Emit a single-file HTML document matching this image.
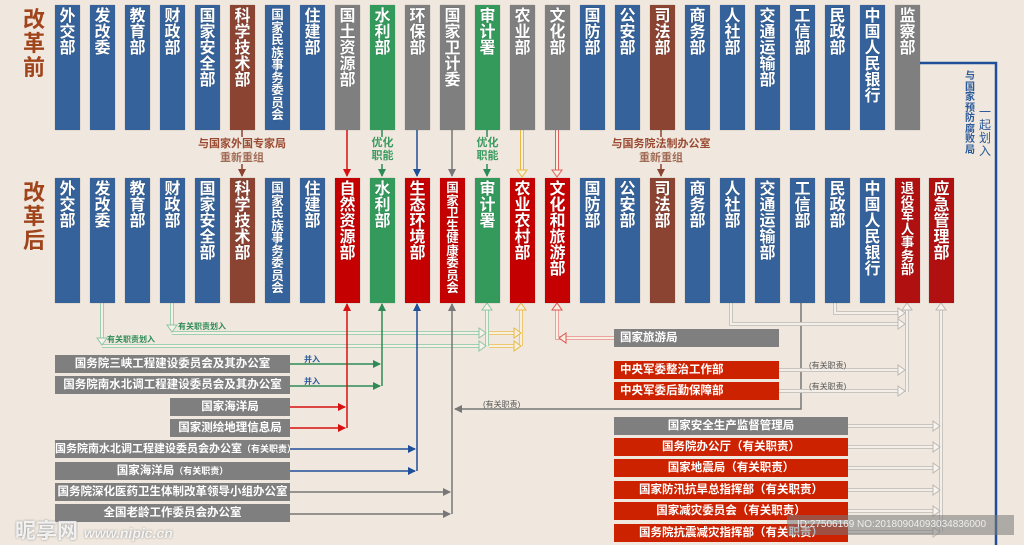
<!DOCTYPE html>
<html><head><meta charset="utf-8">
<style>
*{margin:0;padding:0;box-sizing:border-box}
body{width:1024px;height:545px;background:#f0e8de;position:relative;overflow:hidden;font-family:"Liberation Sans","Noto Sans CJK SC",sans-serif}
.c{position:absolute;width:25px;height:125px;color:#fff;font-weight:bold;text-align:center;line-height:1;padding-top:4px;text-shadow:0 0 1px rgba(0,0,0,.4);box-shadow:0 0 1px rgba(0,0,0,.3)}
.b{background:#35629a}.r{background:#c50000}.g{background:#7f7f7f}.gr{background:#339a5c}.br{background:#8b4332}.dr{background:#b01010}
.bx{position:absolute;height:18px;color:#fff;font-weight:bold;font-size:11.5px;line-height:18px;text-align:center;white-space:nowrap}
.bx small{font-size:9px}
.lab{position:absolute;font-weight:bold;white-space:nowrap}
svg{position:absolute;left:0;top:0}
</style></head><body>
<svg width="1024" height="545" viewBox="0 0 1024 545">
<defs>
<marker id="ar" markerWidth="8" markerHeight="8" refX="7" refY="4" orient="auto" markerUnits="userSpaceOnUse"><path d="M0,0 L8,4 L0,8z" fill="#d81010"/></marker>
<marker id="ag" markerWidth="8" markerHeight="8" refX="7" refY="4" orient="auto" markerUnits="userSpaceOnUse"><path d="M0,0 L8,4 L0,8z" fill="#2e8b57"/></marker>
<marker id="ab" markerWidth="8" markerHeight="8" refX="7" refY="4" orient="auto" markerUnits="userSpaceOnUse"><path d="M0,0 L8,4 L0,8z" fill="#1f4f99"/></marker>
<marker id="ay" markerWidth="8" markerHeight="8" refX="7" refY="4" orient="auto" markerUnits="userSpaceOnUse"><path d="M0,0 L8,4 L0,8z" fill="#777"/></marker>
<marker id="abr" markerWidth="8" markerHeight="8" refX="7" refY="4" orient="auto" markerUnits="userSpaceOnUse"><path d="M0,0 L8,4 L0,8z" fill="#8b4332"/></marker>
</defs>
<line x1="242" y1="130" x2="242" y2="137" stroke="#8b4332" stroke-width="1.5"/>
<line x1="242" y1="164" x2="242" y2="176" stroke="#8b4332" stroke-width="1.5" marker-end="url(#abr)"/>
<line x1="661" y1="130" x2="661" y2="137" stroke="#8b4332" stroke-width="1.5"/>
<line x1="661" y1="164" x2="661" y2="176" stroke="#8b4332" stroke-width="1.5" marker-end="url(#abr)"/>
<line x1="347" y1="130" x2="347" y2="176" stroke="#d81010" stroke-width="1.5" marker-end="url(#ar)"/>
<line x1="382" y1="130" x2="382" y2="137" stroke="#2e8b57" stroke-width="1.5"/>
<line x1="382" y1="164" x2="382" y2="176" stroke="#2e8b57" stroke-width="1.5" marker-end="url(#ag)"/>
<line x1="417" y1="130" x2="417" y2="176" stroke="#1f4f99" stroke-width="1.5" marker-end="url(#ab)"/>
<line x1="452" y1="130" x2="452" y2="176" stroke="#777" stroke-width="1.5" marker-end="url(#ay)"/>
<line x1="487" y1="130" x2="487" y2="137" stroke="#2e8b57" stroke-width="1.5"/>
<line x1="487" y1="164" x2="487" y2="176" stroke="#2e8b57" stroke-width="1.5" marker-end="url(#ag)"/>
<g fill="none">
<path d="M522 130 V172" stroke="#e8b840" stroke-width="4"/><path d="M522 130 V172" stroke="#f7efe0" stroke-width="2"/>
<path d="M517 170 L527 170 L522 177z" fill="#f7efe0" stroke="#e8b840"/>
<path d="M557 130 V172" stroke="#e06060" stroke-width="4"/><path d="M557 130 V172" stroke="#f7efe0" stroke-width="2"/>
<path d="M552 170 L562 170 L557 177z" fill="#f7efe0" stroke="#e06060"/>
</g>
<path d="M919 63 H996 V545" stroke="#1f4f99" stroke-width="2.5" fill="none"/>

<g fill="none" stroke="#9fd0b2" stroke-width="4">
<path d="M102 303 V342"/><path d="M102 346 H480"/>
<path d="M172 303 V329"/><path d="M172 333 H480"/>
<path d="M487 308 V346"/>
</g>
<g fill="none" stroke="#f5efe6" stroke-width="2">
<path d="M102 303 V342"/><path d="M102 346 H480"/>
<path d="M172 303 V329"/><path d="M172 333 H480"/>
<path d="M487 308 V346"/>
</g>
<g fill="#f7f3ec" stroke="#8cc6a3">
<path d="M97 338 L107 338 L102 345z"/><path d="M167 325 L177 325 L172 332z"/>
<path d="M479 328 L486 333 L479 338z"/><path d="M479 341 L486 346 L479 351z"/>
<path d="M482 310 L492 310 L487 303z"/>
</g>
<g fill="none" stroke="#edc870" stroke-width="4"><path d="M489 333 H515"/><path d="M489 346 H515"/><path d="M521 308 V346"/></g>
<g fill="none" stroke="#f7efe0" stroke-width="2"><path d="M489 333 H515"/><path d="M489 346 H515"/><path d="M521 308 V346"/></g>
<g fill="#f7efe0" stroke="#e8b840"><path d="M514 328 L521 333 L514 338z"/><path d="M514 341 L521 346 L514 351z"/><path d="M516 310 L526 310 L521 303z"/></g>
<g fill="none" stroke="#eca0a0" stroke-width="4"><path d="M557 308 V338 H614"/></g>
<g fill="none" stroke="#f7efe0" stroke-width="2"><path d="M557 308 V338 H614"/></g>
<g fill="#f7efe0" stroke="#e05050"><path d="M552 310 L562 310 L557 303z"/><path d="M566 333 L559 338 L566 343z"/></g>

<line x1="290" y1="364" x2="380" y2="364" stroke="#2e8b57" stroke-width="1.5" marker-end="url(#ag)"/>
<line x1="290" y1="386" x2="380" y2="386" stroke="#2e8b57" stroke-width="1.5" marker-end="url(#ag)"/>
<line x1="382" y1="386" x2="382" y2="304" stroke="#2e8b57" stroke-width="1.5" marker-end="url(#ag)"/>
<line x1="252" y1="407" x2="345" y2="407" stroke="#d81010" stroke-width="1.5" marker-end="url(#ar)"/>
<line x1="252" y1="428" x2="345" y2="428" stroke="#d81010" stroke-width="1.5" marker-end="url(#ar)"/>
<line x1="347" y1="428" x2="347" y2="304" stroke="#d81010" stroke-width="1.5" marker-end="url(#ar)"/>
<line x1="290" y1="449" x2="415" y2="449" stroke="#1f4f99" stroke-width="1.5" marker-end="url(#ab)"/>
<line x1="290" y1="471" x2="415" y2="471" stroke="#1f4f99" stroke-width="1.5" marker-end="url(#ab)"/>
<line x1="417" y1="471" x2="417" y2="304" stroke="#1f4f99" stroke-width="1.5" marker-end="url(#ab)"/>
<line x1="290" y1="492" x2="450" y2="492" stroke="#777" stroke-width="1.5" marker-end="url(#ay)"/>
<line x1="290" y1="514" x2="450" y2="514" stroke="#777" stroke-width="1.5" marker-end="url(#ay)"/>
<line x1="452" y1="514" x2="452" y2="304" stroke="#777" stroke-width="1.5" marker-end="url(#ay)"/>
<path d="M801 303 V409 H455" stroke="#777" stroke-width="1.5" fill="none" marker-end="url(#ay)"/>

<g fill="none" stroke="#c8c4c0" stroke-width="4">
<path d="M731 303 V324 H900"/><path d="M835 303 V313 H900"/>
<path d="M779 370 H900"/><path d="M779 391 H900"/><path d="M907 308 V392"/>
<path d="M848 426 H935"/><path d="M848 447 H935"/><path d="M848 468 H935"/><path d="M848 490 H935"/><path d="M848 511 H935"/><path d="M848 532 H935"/>
<path d="M941 308 V532"/>
</g>
<g fill="none" stroke="#f4efe8" stroke-width="2">
<path d="M731 303 V324 H900"/><path d="M835 303 V313 H900"/>
<path d="M779 370 H900"/><path d="M779 391 H900"/><path d="M907 308 V392"/>
<path d="M848 426 H935"/><path d="M848 447 H935"/><path d="M848 468 H935"/><path d="M848 490 H935"/><path d="M848 511 H935"/><path d="M848 532 H935"/>
<path d="M941 308 V532"/>
</g>
<g fill="#f8f5f0" stroke="#bdb8b2">
<path d="M898 308 L905 313 L898 318z"/><path d="M898 319 L905 324 L898 329z"/>
<path d="M898 365 L905 370 L898 375z"/><path d="M898 386 L905 391 L898 396z"/>
<path d="M902 310 L912 310 L907 303z"/><path d="M936 310 L946 310 L941 303z"/>
<path d="M933 421 L940 426 L933 431z"/><path d="M933 442 L940 447 L933 452z"/><path d="M933 463 L940 468 L933 473z"/><path d="M933 485 L940 490 L933 495z"/><path d="M933 506 L940 511 L933 516z"/><path d="M933 527 L940 532 L933 537z"/>
</g>
</svg>

<div class="lab" style="left:23px;top:8px;font-size:22px;line-height:24px;color:#a0441c;width:24px">改<br>革<br>前</div>
<div class="lab" style="left:23px;top:181px;font-size:22px;line-height:24px;color:#a0441c;width:24px">改<br>革<br>后</div>

<div class="c b" style="left:55px;top:5px;font-size:16px">外<br>交<br>部</div>
<div class="c b" style="left:90px;top:5px;font-size:16px">发<br>改<br>委</div>
<div class="c b" style="left:125px;top:5px;font-size:16px">教<br>育<br>部</div>
<div class="c b" style="left:160px;top:5px;font-size:16px">财<br>政<br>部</div>
<div class="c b" style="left:195px;top:5px;font-size:16px">国<br>家<br>安<br>全<br>部</div>
<div class="c br" style="left:230px;top:5px;font-size:16px">科<br>学<br>技<br>术<br>部</div>
<div class="c b" style="left:265px;top:5px;font-size:12.5px">国<br>家<br>民<br>族<br>事<br>务<br>委<br>员<br>会</div>
<div class="c b" style="left:300px;top:5px;font-size:16px">住<br>建<br>部</div>
<div class="c g" style="left:335px;top:5px;font-size:16px">国<br>土<br>资<br>源<br>部</div>
<div class="c gr" style="left:370px;top:5px;font-size:16px">水<br>利<br>部</div>
<div class="c g" style="left:405px;top:5px;font-size:16px">环<br>保<br>部</div>
<div class="c g" style="left:440px;top:5px;font-size:16px">国<br>家<br>卫<br>计<br>委</div>
<div class="c gr" style="left:475px;top:5px;font-size:16px">审<br>计<br>署</div>
<div class="c g" style="left:510px;top:5px;font-size:16px">农<br>业<br>部</div>
<div class="c g" style="left:545px;top:5px;font-size:16px">文<br>化<br>部</div>
<div class="c b" style="left:580px;top:5px;font-size:16px">国<br>防<br>部</div>
<div class="c b" style="left:615px;top:5px;font-size:16px">公<br>安<br>部</div>
<div class="c br" style="left:650px;top:5px;font-size:16px">司<br>法<br>部</div>
<div class="c b" style="left:685px;top:5px;font-size:16px">商<br>务<br>部</div>
<div class="c b" style="left:720px;top:5px;font-size:16px">人<br>社<br>部</div>
<div class="c b" style="left:755px;top:5px;font-size:16px">交<br>通<br>运<br>输<br>部</div>
<div class="c b" style="left:790px;top:5px;font-size:16px">工<br>信<br>部</div>
<div class="c b" style="left:825px;top:5px;font-size:16px">民<br>政<br>部</div>
<div class="c b" style="left:860px;top:5px;font-size:16px">中<br>国<br>人<br>民<br>银<br>行</div>
<div class="c g" style="left:895px;top:5px;font-size:16px">监<br>察<br>部</div>

<div class="c b" style="left:55px;top:178px;font-size:16px">外<br>交<br>部</div>
<div class="c b" style="left:90px;top:178px;font-size:16px">发<br>改<br>委</div>
<div class="c b" style="left:125px;top:178px;font-size:16px">教<br>育<br>部</div>
<div class="c b" style="left:160px;top:178px;font-size:16px">财<br>政<br>部</div>
<div class="c b" style="left:195px;top:178px;font-size:16px">国<br>家<br>安<br>全<br>部</div>
<div class="c br" style="left:230px;top:178px;font-size:16px">科<br>学<br>技<br>术<br>部</div>
<div class="c b" style="left:265px;top:178px;font-size:12.5px">国<br>家<br>民<br>族<br>事<br>务<br>委<br>员<br>会</div>
<div class="c b" style="left:300px;top:178px;font-size:16px">住<br>建<br>部</div>
<div class="c r" style="left:335px;top:178px;font-size:16px">自<br>然<br>资<br>源<br>部</div>
<div class="c gr" style="left:370px;top:178px;font-size:16px">水<br>利<br>部</div>
<div class="c r" style="left:405px;top:178px;font-size:16px">生<br>态<br>环<br>境<br>部</div>
<div class="c r" style="left:440px;top:178px;font-size:12.5px">国<br>家<br>卫<br>生<br>健<br>康<br>委<br>员<br>会</div>
<div class="c gr" style="left:475px;top:178px;font-size:16px">审<br>计<br>署</div>
<div class="c r" style="left:510px;top:178px;font-size:16px">农<br>业<br>农<br>村<br>部</div>
<div class="c r" style="left:545px;top:178px;font-size:16px">文<br>化<br>和<br>旅<br>游<br>部</div>
<div class="c b" style="left:580px;top:178px;font-size:16px">国<br>防<br>部</div>
<div class="c b" style="left:615px;top:178px;font-size:16px">公<br>安<br>部</div>
<div class="c br" style="left:650px;top:178px;font-size:16px">司<br>法<br>部</div>
<div class="c b" style="left:685px;top:178px;font-size:16px">商<br>务<br>部</div>
<div class="c b" style="left:720px;top:178px;font-size:16px">人<br>社<br>部</div>
<div class="c b" style="left:755px;top:178px;font-size:16px">交<br>通<br>运<br>输<br>部</div>
<div class="c b" style="left:790px;top:178px;font-size:16px">工<br>信<br>部</div>
<div class="c b" style="left:825px;top:178px;font-size:16px">民<br>政<br>部</div>
<div class="c b" style="left:860px;top:178px;font-size:16px">中<br>国<br>人<br>民<br>银<br>行</div>
<div class="c dr" style="left:895px;top:178px;font-size:13.5px">退<br>役<br>军<br>人<br>事<br>务<br>部</div>
<div class="c dr" style="left:929px;top:178px;font-size:16px">应<br>急<br>管<br>理<br>部</div>

<div class="lab" style="left:192px;top:137px;width:100px;text-align:center;font-size:11px;line-height:14px;color:#9a4a32">与国家外国专家局<br><span style="color:#a06a55">重新重组</span></div>
<div class="lab" style="left:606px;top:137px;width:110px;text-align:center;font-size:11px;line-height:14px;color:#9a4a32">与国务院法制办公室<br><span style="color:#a06a55">重新重组</span></div>
<div class="lab" style="left:370px;top:137px;width:25px;text-align:center;font-size:11px;line-height:13px;color:#3a9a60">优化<br>职能</div>
<div class="lab" style="left:475px;top:137px;width:25px;text-align:center;font-size:11px;line-height:13px;color:#3a9a60">优化<br>职能</div>
<div class="lab" style="left:965px;top:72px;width:12px;font-size:10px;line-height:10.5px;color:#2a5a9a">与<br>国<br>家<br>预<br>防<br>腐<br>败<br>局</div>
<div class="lab" style="left:979px;top:106px;width:14px;font-size:12px;line-height:13px;color:#2a5a9a;font-weight:normal">一<br>起<br>划<br>入</div>

<div class="lab" style="left:107px;top:334px;font-size:8px;color:#2e8b57">有关职责划入</div>
<div class="lab" style="left:178px;top:321px;font-size:8px;color:#2e8b57">有关职责划入</div>
<div class="lab" style="left:304px;top:354px;font-size:8px;color:#2a5a9a">并入</div>
<div class="lab" style="left:304px;top:376px;font-size:8px;color:#2a5a9a">并入</div>
<div class="lab" style="left:483px;top:399px;font-size:8px;color:#555;font-weight:normal">(有关职责)</div>
<div class="lab" style="left:809px;top:360px;font-size:8px;color:#555;font-weight:normal">(有关职责)</div>
<div class="lab" style="left:809px;top:381px;font-size:8px;color:#555;font-weight:normal">(有关职责)</div>

<div class="bx g" style="left:55px;top:355px;width:235px">国务院三峡工程建设委员会及其办公室</div>
<div class="bx g" style="left:55px;top:376px;width:235px">国务院南水北调工程建设委员会及其办公室</div>
<div class="bx g" style="left:170px;top:398px;width:120px">国家海洋局</div>
<div class="bx g" style="left:170px;top:419px;width:120px">国家测绘地理信息局</div>
<div class="bx g" style="left:55px;top:440px;width:235px;font-size:11px">国务院南水北调工程建设委员会办公室<small>（有关职责）</small></div>
<div class="bx g" style="left:55px;top:462px;width:235px">国家海洋局<small>（有关职责）</small></div>
<div class="bx g" style="left:55px;top:483px;width:235px">国务院深化医药卫生体制改革领导小组办公室</div>
<div class="bx g" style="left:55px;top:504px;width:235px">全国老龄工作委员会办公室</div>

<div class="bx g" style="left:614px;top:329px;width:165px;text-align:left;padding-left:6px">国家旅游局</div>
<div class="bx" style="left:614px;top:361px;width:165px;text-align:left;padding-left:6px;background:#cc2200">中央军委整治工作部</div>
<div class="bx" style="left:614px;top:382px;width:165px;text-align:left;padding-left:6px;background:#cc2200">中央军委后勤保障部</div>
<div class="bx g" style="left:614px;top:417px;width:234px">国家安全生产监督管理局</div>
<div class="bx" style="left:614px;top:438px;width:234px;background:#cc2200">国务院办公厅（有关职责）</div>
<div class="bx" style="left:614px;top:459px;width:234px;background:#cc2200">国家地震局（有关职责）</div>
<div class="bx" style="left:614px;top:481px;width:234px;background:#cc2200">国家防汛抗旱总指挥部（有关职责）</div>
<div class="bx" style="left:614px;top:502px;width:234px;background:#cc2200">国家减灾委员会（有关职责）</div>
<div class="bx" style="left:614px;top:524px;width:234px;background:#cc2200">国务院抗震减灾指挥部（有关职责）</div>

<div style="position:absolute;left:787px;top:515px;width:227px;height:20px;background:rgba(120,120,120,.55);color:#eee;font-size:10px;line-height:20px;padding-left:10px">ID:27506169 NO:20180904093034836000</div>
<div class="lab" style="left:15px;top:515px;font-size:21px;color:rgba(255,255,255,.85);text-shadow:0 0 2px #888">昵享网 <span style="font-size:14px;font-style:italic">www.nipic.cn</span></div>
</body></html>
